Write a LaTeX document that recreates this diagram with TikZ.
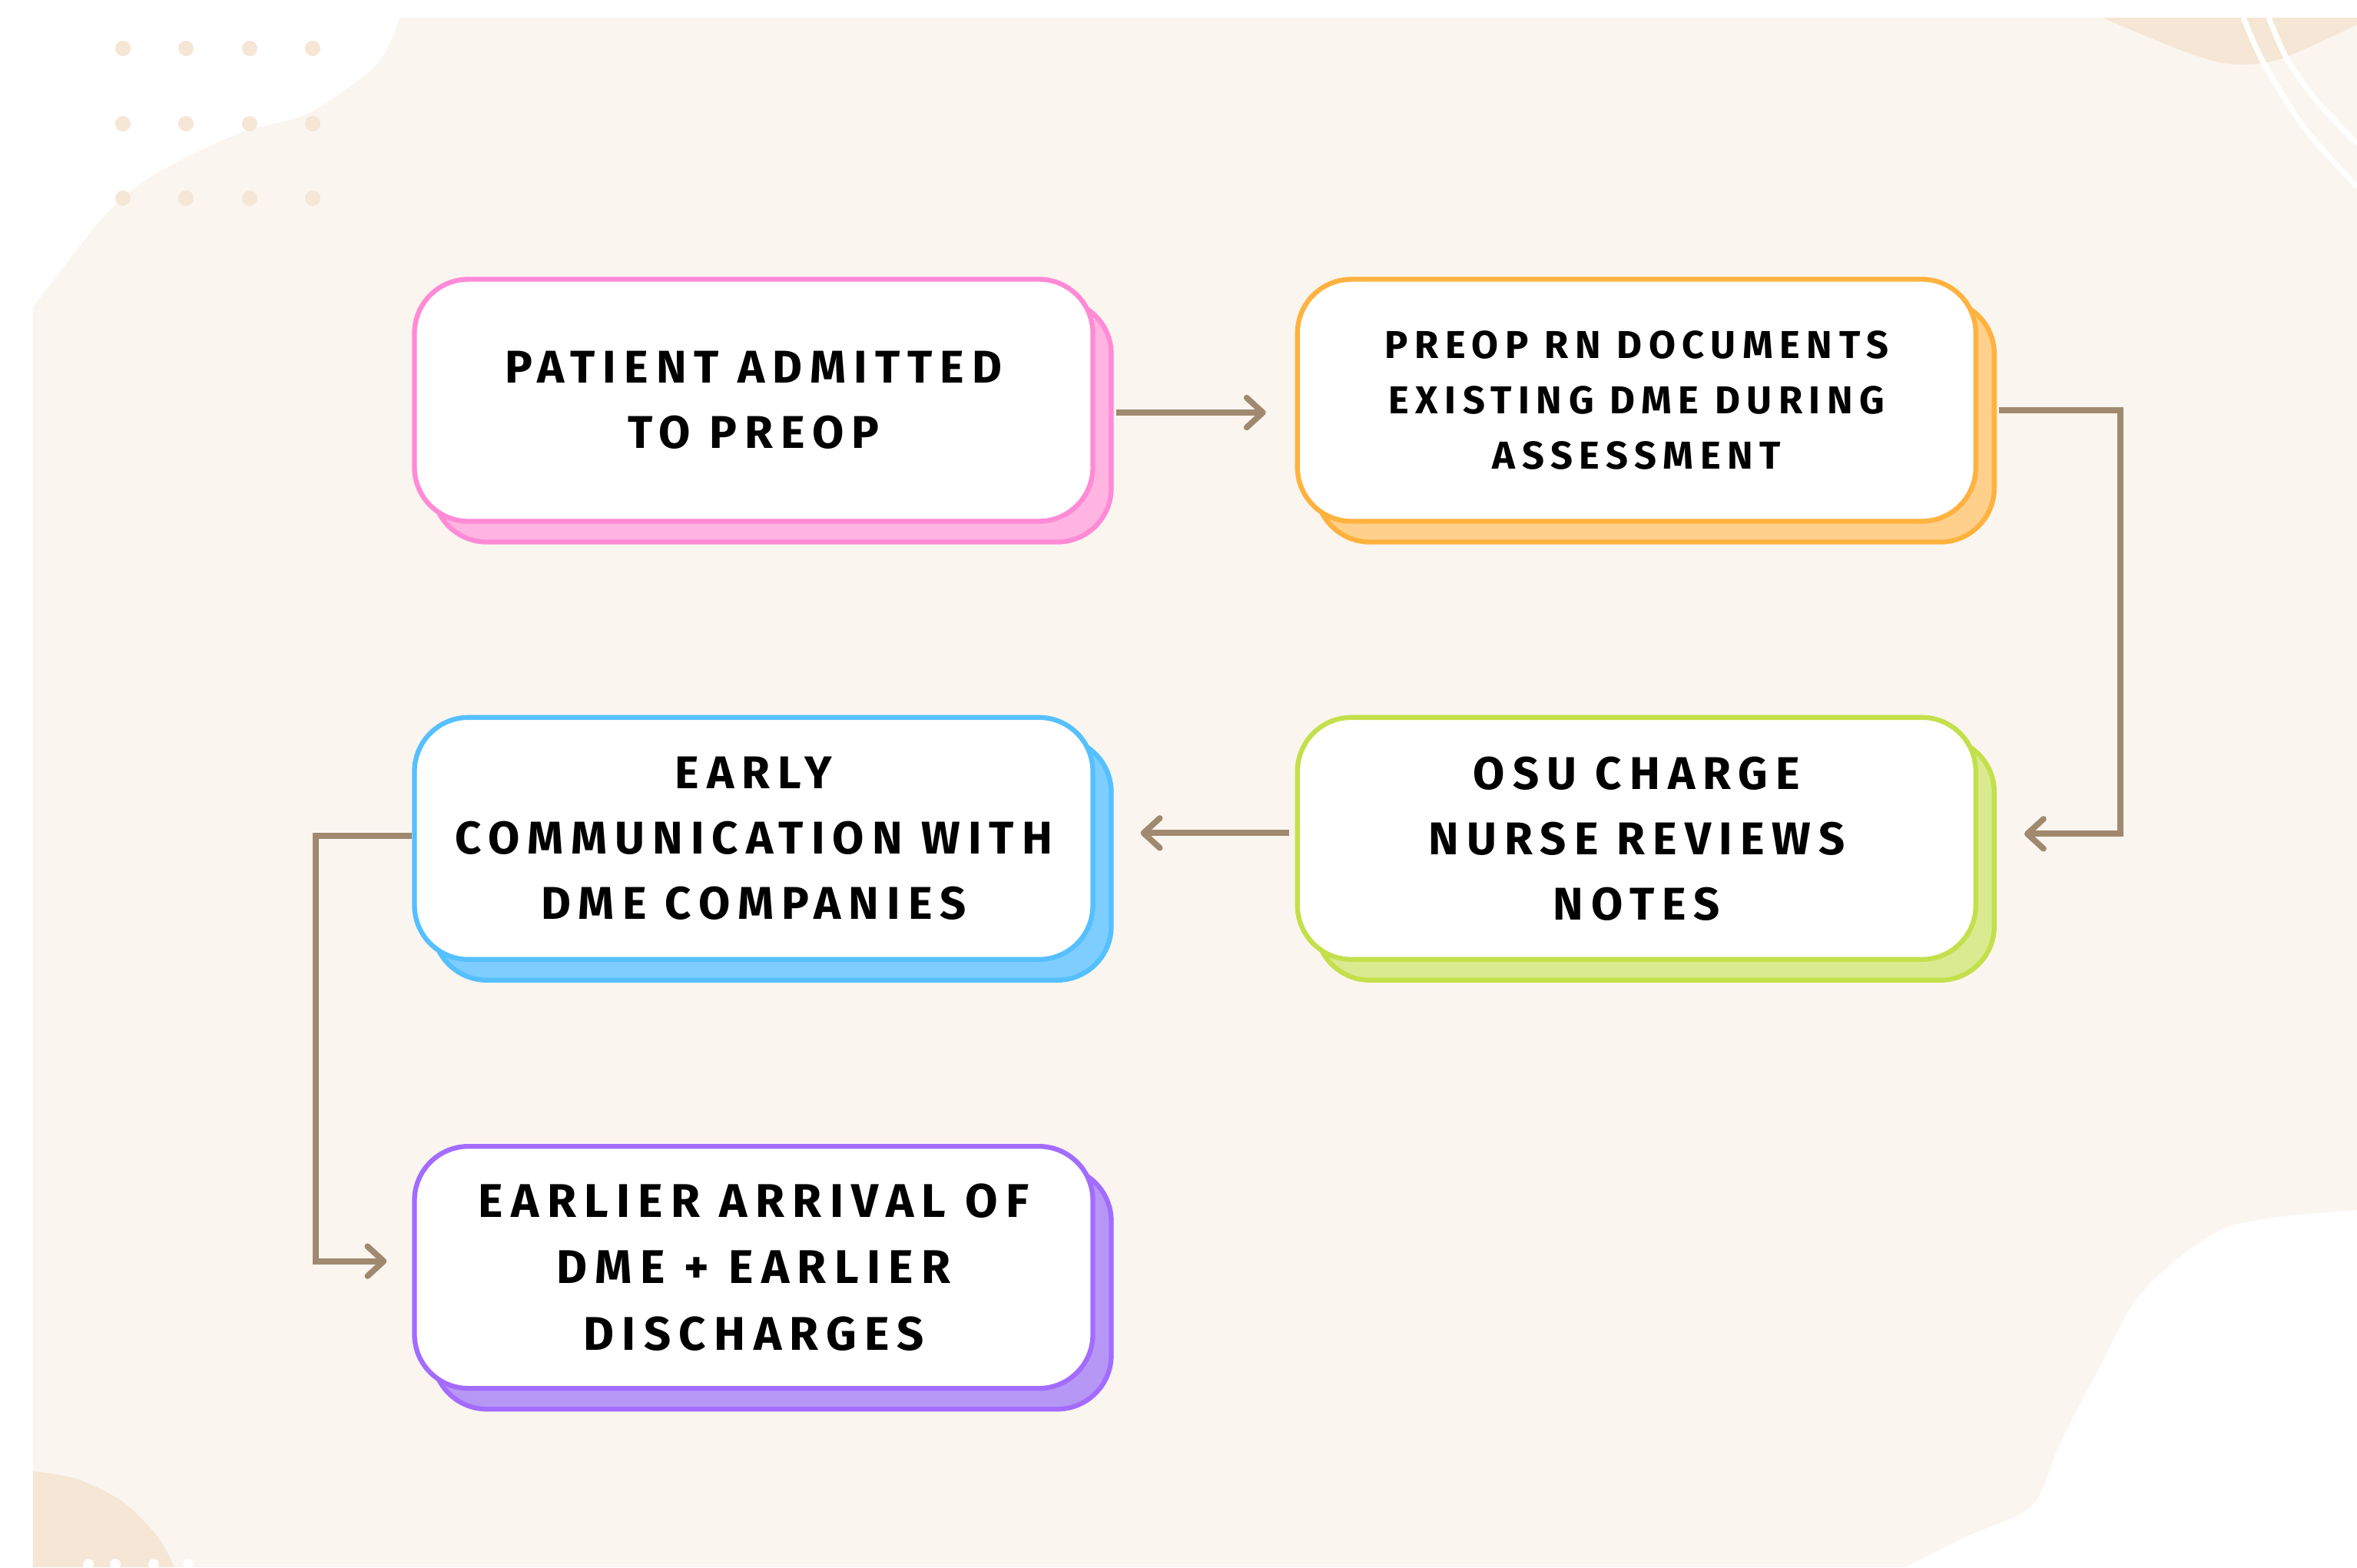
\documentclass[tikz,border=0pt]{standalone}
\usepackage{fontspec}
\usepackage{tikz}
\usetikzlibrary{arrows.meta,positioning,shadows}
\newfontfamily\boxfont{Fira Sans}[LetterSpace=17]
\definecolor{bgcream}{HTML}{FAF5EF}
\definecolor{beige}{HTML}{F5E6D5}
\definecolor{arrowbrown}{HTML}{A0896E}
\definecolor{pinkline}{HTML}{FF8AD6}
\definecolor{pinkshade}{HTML}{FFB4E2}
\definecolor{orangeline}{HTML}{FFB23E}
\definecolor{orangeshade}{HTML}{FFD08C}
\definecolor{greenline}{HTML}{C3E04B}
\definecolor{greenshade}{HTML}{D9EA90}
\definecolor{blueline}{HTML}{55C0FF}
\definecolor{blueshade}{HTML}{7DCDFF}
\definecolor{purpleline}{HTML}{A36CFF}
\definecolor{purpleshade}{HTML}{B797F5}
\tikzset{
    %Define standard arrow tip
    >={Straight Barb[length=6pt,width=11pt,round]},
    %Define style for boxes
    stepbox/.style={
           rectangle,
           rounded corners=20pt,
           line width=1.8pt,
           fill=white,
           minimum width=8.83cm,
           minimum height=3.15cm,
           inner sep=0pt,
           align=center,
           font=\boxfont\bfseries\fontsize{17}{24.2}\selectfont},
    pinkbox/.style={
           stepbox,
           draw=pinkline,
           general shadow={shadow xshift=0.24cm, shadow yshift=-0.27cm,
                           fill=pinkshade, draw=pinkline, line width=1.8pt}},
    orangebox/.style={
           stepbox,
           draw=orangeline,
           general shadow={shadow xshift=0.24cm, shadow yshift=-0.27cm,
                           fill=orangeshade, draw=orangeline, line width=1.8pt}},
    greenbox/.style={
           stepbox,
           draw=greenline,
           general shadow={shadow xshift=0.24cm, shadow yshift=-0.27cm,
                           fill=greenshade, draw=greenline, line width=1.8pt}},
    bluebox/.style={
           stepbox,
           draw=blueline,
           general shadow={shadow xshift=0.24cm, shadow yshift=-0.27cm,
                           fill=blueshade, draw=blueline, line width=1.8pt}},
    purplebox/.style={
           stepbox,
           draw=purpleline,
           general shadow={shadow xshift=0.24cm, shadow yshift=-0.27cm,
                           fill=purpleshade, draw=purpleline, line width=1.8pt}},
    % Define arrow style
    flow/.style={
           ->,
           draw=arrowbrown,
           line width=2.2pt}
}
\begin{document}
\begin{tikzpicture}[x=1cm,y=-1cm,node distance=2.49cm and 2.6cm]
\useasboundingbox (0,0) rectangle (30.68,20.40);
 %background
\fill[white] (0,0) rectangle (30.68,20.40);
\fill[bgcream] (0.43,0.23) rectangle (30.68,20.40);
\fill[white] plot[smooth] coordinates {(5.20,0.23) (4.91,0.83) (4.02,1.47) (3.12,1.73) (2.01,2.27) (1.34,2.83) (0.43,4.00)} -- (0.43,0.23) -- cycle;
\fill[beige] plot[smooth] coordinates {(27.37,0.23) (28.33,0.63) (29.00,0.83) (29.67,0.77) (30.68,0.32)} -- (30.68,0.23) -- cycle;
\draw[white,line width=2pt] plot[smooth] coordinates {(29.20,0.23) (29.47,0.83) (30.00,1.67) (30.68,2.43)};
\draw[white,line width=2pt] plot[smooth] coordinates {(29.53,0.23) (29.77,0.77) (30.17,1.33) (30.68,1.87)};
\fill[white] plot[smooth] coordinates {(30.68,15.75) (29.00,15.97) (27.90,16.80) (27.35,17.76) (26.81,18.80) (26.45,19.60) (25.60,20.00) (24.80,20.40)} -- (30.68,20.40) -- cycle;
\fill[beige] plot[smooth] coordinates {(0.43,19.15) (1.00,19.25) (1.60,19.55) (2.05,20.00) (2.27,20.40)} -- (0.43,20.40) -- cycle;
\foreach \x in {1.15,1.50,2.00,2.45}
    \fill[white] (\x,20.36) circle (0.07);
\foreach \x in {1.60,2.42,3.25,4.07}
    \foreach \y in {0.63,1.61,2.58}
        \fill[beige] (\x,\y) circle (0.10);
 %nodes
\node[pinkbox] (1) at (9.81,5.21) {PATIENT ADMITTED\\TO PREOP};
\node[orangebox, right=of 1, font=\boxfont\bfseries\fontsize{14.4}{20.5}\selectfont] (2) {PREOP RN DOCUMENTS\\EXISTING DME DURING\\ASSESSMENT};
\node[bluebox, below=of 1] (4) {EARLY\\COMMUNICATION WITH\\DME COMPANIES};
\node[greenbox, right=of 4] (3) {OSU CHARGE\\NURSE REVIEWS\\NOTES};
\node[purplebox, below=2.37cm of 4, font=\boxfont\bfseries\fontsize{17.5}{24.7}\selectfont] (5) {EARLIER ARRIVAL OF\\DME + EARLIER\\DISCHARGES};
 %connectors
\draw[flow, shorten <=0.27cm, shorten >=0.38cm] ([yshift=-0.16cm]1.east) -- ([yshift=-0.16cm]2.west);
\draw[flow] ([xshift=0.27cm,yshift=-0.13cm]2.east) -- ++(1.58,0) |- ([xshift=0.6cm,yshift=0.06cm]3.east);
\draw[flow, shorten <=0.08cm, shorten >=0.59cm] ([yshift=0.07cm]3.west) -- ([yshift=0.07cm]4.east);
\draw[flow] ([yshift=0.03cm]4.west) -- ++(-1.25,0) |- ([xshift=-0.33cm,yshift=0.08cm]5.west);
\end{tikzpicture}
\end{document}
